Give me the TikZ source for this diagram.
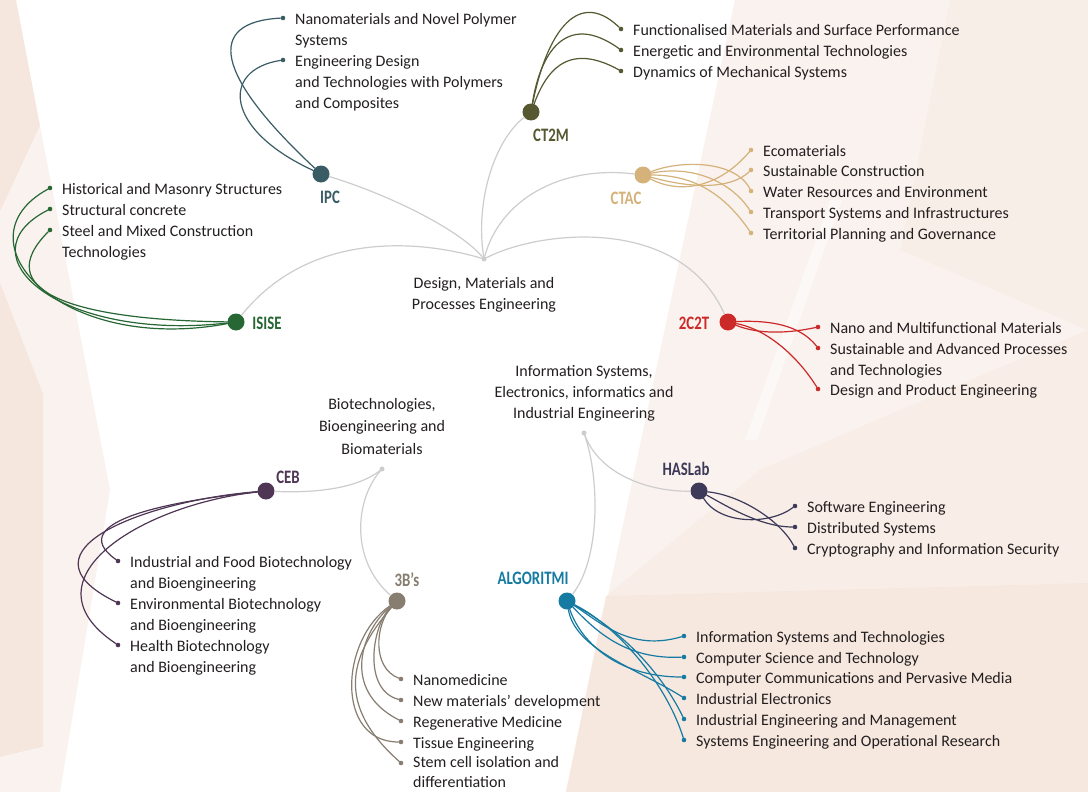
\documentclass[tikz,border=0pt]{standalone}
\usepackage{fontspec}
\setmainfont{Carlito}
\usepackage{tikz}
\usepackage{graphicx}
\definecolor{ipccol}{RGB}{58,92,100}
\definecolor{ctmcol}{RGB}{85,88,48}
\definecolor{ctaccol}{RGB}{213,178,122}
\definecolor{isisecol}{RGB}{38,103,52}
\definecolor{cctcol}{RGB}{204,41,41}
\definecolor{cebcol}{RGB}{78,54,84}
\definecolor{bbbcol}{RGB}{135,125,112}
\definecolor{hascol}{RGB}{60,58,88}
\definecolor{algcol}{RGB}{22,123,163}
\definecolor{hubgray}{RGB}{205,205,205}
\definecolor{inkgray}{RGB}{35,31,32}
\definecolor{bgpeach}{RGB}{246,231,222}
\definecolor{bglight}{RGB}{250,242,238}
\usetikzlibrary{positioning}
\newcommand{\leaffont}{\fontsize{16}{21}\selectfont}
\newcommand{\unitfont}{\fontsize{19}{19}\selectfont\bfseries}
\newcommand{\narrow}[1]{\scalebox{0.78}[1]{#1}}
\tikzset{
    unitdot/.style = {circle, fill, inner sep=0pt, minimum size=17pt},
    leafdot/.style = {circle, fill, inner sep=0pt, minimum size=4.6pt},
    hubdot/.style = {circle, fill=hubgray, inner sep=0pt, minimum size=5pt},
    twig/.style = {line width=1.2pt},
    stem/.style = {draw=hubgray, line width=1.2pt},
    leaftext/.style = {anchor=north west, xshift=12pt, yshift=8pt, inner sep=0pt,
        align=left, font=\leaffont, text=inkgray, execute at begin node=\strut},
    leaftexts/.style = {leaftext, yshift=-3pt},
    hubtext/.style = {inner sep=0pt, align=center, font=\leaffont, text=inkgray,
        execute at begin node=\strut, execute at end node=\strut},
    unitlbl/.style = {inner sep=0pt, font=\unitfont}
}

\begin{document}
\begin{tikzpicture}[line cap=round, line join=round, x=1pt, y=-1pt]
\useasboundingbox (0,0) rectangle (1088,792);
\fill[white] (0,0) rectangle (1088,792);

\fill[bgpeach] (0,0) -- (16,0) -- (40,126) -- (0,212) -- cycle;
\fill[bglight] (0,212) -- (40,126) -- (110,490) -- (43,560) -- (0,540) -- cycle;
\fill[bgpeach] (0,283) -- (43,394) -- (43,747) -- (0,757) -- cycle;
\fill[bglight] (43,560) -- (110,490) -- (60,792) -- (0,792) -- (0,757) -- (43,747) -- cycle;
\fill[bglight] (735,0) -- (1088,0) -- (1088,792) -- (566,792) -- cycle;
\fill[bgpeach, opacity=.35] (950,0) -- (1088,0) -- (1088,330) -- (900,250) -- cycle;
\fill[bgpeach, opacity=.9] (606,596) -- (1088,583) -- (1088,792) -- (566,792) -- cycle;
\fill[bgpeach, opacity=.4] (760,470) -- (1088,330) -- (1088,583) -- (606,596) -- cycle;
\fill[white, opacity=.5] (830,200) -- (842,200) -- (757,440) -- (745,440) -- cycle;

\node[hubdot] (dmpe) at (484,259) {};
\node[hubdot] (info) at (584,433) {};
\node[hubdot] (bio) at (382,469) {};
\node[hubtext, below=15pt of dmpe] (dmpetxt) {Design, Materials and\\Processes Engineering};
\node[hubtext, above=5.5pt of info] (infotxt) {Information Systems,\\Electronics, informatics and\\Industrial Engineering};
\node[hubtext, above=5pt of bio, font=\fontsize{16}{22.5}\selectfont] (biotxt) {Biotechnologies,\\Bioengineering and\\Biomaterials};

\node[unitdot, ipccol] (ipc) at (321,174) {};
\node[unitdot, ctmcol] (ctm) at (531,112) {};
\node[unitdot, ctaccol] (ctac) at (643,175) {};
\node[unitdot, isisecol] (isise) at (236,322) {};
\node[unitdot, cctcol] (cct) at (728,322) {};
\node[unitdot, cebcol] (ceb) at (266,491) {};
\node[unitdot, bbbcol] (bbb) at (397,601) {};
\node[unitdot, hascol] (has) at (699,491) {};
\node[unitdot, algcol] (alg) at (567,601) {};

\node[unitlbl, text=ipccol] (ipclbl) at (330,197) {\narrow{IPC}};
\node[unitlbl, text=ctmcol] (ctmlbl) at (551,135) {\narrow{CT2M}};
\node[unitlbl, text=ctaccol] (ctaclbl) at (626,198) {\narrow{CTAC}};
\node[unitlbl, text=isisecol] (isiselbl) at (267,323) {\narrow{ISISE}};
\node[unitlbl, text=cctcol] (cctlbl) at (694,323) {\narrow{2C2T}};
\node[unitlbl, text=cebcol] (ceblbl) at (288,477) {\narrow{CEB}};
\node[unitlbl, text=bbbcol] (bbblbl) at (407,580) {\narrow{3B’s}};
\node[unitlbl, text=hascol] (haslbl) at (686,469) {\narrow{HASLab}};
\node[unitlbl, text=algcol] (alglbl) at (533,578) {\narrow{ALGORITMI}};

\draw[stem] (dmpe) .. controls (460,230) and (390,195) .. (ipc);
\draw[stem] (dmpe) .. controls (475,200) and (495,140) .. (ctm);
\draw[stem] (dmpe) .. controls (500,200) and (560,165) .. (ctac);
\draw[stem] (dmpe) .. controls (420,240) and (310,230) .. (isise);
\draw[stem] (dmpe) .. controls (540,230) and (680,215) .. (cct);
\draw[stem] (info) .. controls (600,475) and (650,492) .. (has);
\draw[stem] (info) .. controls (600,480) and (600,560) .. (alg);
\draw[stem] (bio) .. controls (355,490) and (310,493) .. (ceb);
\draw[stem] (bio) .. controls (355,500) and (350,560) .. (bbb);

\node[leafdot, ipccol] (ipc1) at (283,18) {};
\node[leafdot, ipccol] (ipc2) at (283,60) {};
\node[leaftexts] (ipc1t) at (ipc1) {Nanomaterials and Novel Polymer\\Systems};
\node[leaftexts] (ipc2t) at (ipc2) {Engineering Design\\and Technologies with Polymers\\and Composites};
\draw[twig, ipccol] (ipc) .. controls (215,75) and (205,22) .. (ipc1);
\draw[twig, ipccol] (ipc) .. controls (225,130) and (220,70) .. (ipc2);

\node[leafdot, ctmcol] (ctm1) at (621,29) {};
\node[leafdot, ctmcol] (ctm2) at (621,50) {};
\node[leafdot, ctmcol] (ctm3) at (621,71) {};
\node[leaftext] (ctm1t) at (ctm1) {Functionalised Materials and Surface Performance};
\node[leaftext] (ctm2t) at (ctm2) {Energetic and Environmental Technologies};
\node[leaftext] (ctm3t) at (ctm3) {Dynamics of Mechanical Systems};
\draw[twig, ctmcol] (ctm) .. controls (545,40) and (575,-15) .. (ctm1);
\draw[twig, ctmcol] (ctm) .. controls (540,55) and (565,10) .. (ctm2);
\draw[twig, ctmcol] (ctm) .. controls (545,75) and (565,40) .. (ctm3);

\node[leafdot, ctaccol] (ctac1) at (751,150) {};
\node[leafdot, ctaccol] (ctac2) at (751,170) {};
\node[leafdot, ctaccol] (ctac3) at (751,191) {};
\node[leafdot, ctaccol] (ctac4) at (751,212) {};
\node[leafdot, ctaccol] (ctac5) at (751,233) {};
\node[leaftext] (ctac1t) at (ctac1) {Ecomaterials};
\node[leaftext] (ctac2t) at (ctac2) {Sustainable Construction};
\node[leaftext] (ctac3t) at (ctac3) {Water Resources and Environment};
\node[leaftext] (ctac4t) at (ctac4) {Transport Systems and Infrastructures};
\node[leaftext] (ctac5t) at (ctac5) {Territorial Planning and Governance};
\draw[twig, ctaccol] (ctac) .. controls (675,192) and (715,192) .. (ctac1);
\draw[twig, ctaccol] (ctac) .. controls (690,188) and (730,190) .. (ctac2);
\draw[twig, ctaccol] (ctac) .. controls (680,160) and (735,160) .. (ctac3);
\draw[twig, ctaccol] (ctac) .. controls (690,165) and (730,180) .. (ctac4);
\draw[twig, ctaccol] (ctac) .. controls (695,175) and (725,195) .. (ctac5);

\node[leafdot, isisecol] (isise1) at (50,188) {};
\node[leafdot, isisecol] (isise2) at (50,209) {};
\node[leafdot, isisecol] (isise3) at (50,230) {};
\node[leaftext] (isise1t) at (isise1) {Historical and Masonry Structures};
\node[leaftext] (isise2t) at (isise2) {Structural concrete};
\node[leaftexts] (isise3t) at (isise3) {Steel and Mixed Construction\\Technologies};
\draw[twig, isisecol] (isise) .. controls (60,355) and (-45,240) .. (isise1);
\draw[twig, isisecol] (isise) .. controls (60,342) and (-40,255) .. (isise2);
\draw[twig, isisecol] (isise) .. controls (70,320) and (-10,290) .. (isise3);

\node[leafdot, cctcol] (cct1) at (818,327) {};
\node[leafdot, cctcol] (cct2) at (818,348) {};
\node[leafdot, cctcol] (cct3) at (818,389) {};
\node[leaftext] (cct1t) at (cct1) {Nano and Multifunctional Materials};
\node[leaftexts] (cct2t) at (cct2) {Sustainable and Advanced Processes\\and Technologies};
\node[leaftext] (cct3t) at (cct3) {Design and Product Engineering};
\draw[twig, cctcol] (cct) .. controls (760,335) and (790,333) .. (cct1);
\draw[twig, cctcol] (cct) .. controls (770,320) and (800,325) .. (cct2);
\draw[twig, cctcol] (cct) .. controls (770,330) and (800,360) .. (cct3);

\node[leafdot, cebcol] (ceb1) at (118,561) {};
\node[leafdot, cebcol] (ceb2) at (118,603) {};
\node[leafdot, cebcol] (ceb3) at (118,645) {};
\node[leaftexts] (ceb1t) at (ceb1) {Industrial and Food Biotechnology\\and Bioengineering};
\node[leaftexts] (ceb2t) at (ceb2) {Environmental Biotechnology\\and Bioengineering};
\node[leaftexts] (ceb3t) at (ceb3) {Health Biotechnology\\and Bioengineering};
\draw[twig, cebcol] (ceb) .. controls (180,500) and (60,520) .. (ceb1);
\draw[twig, cebcol] (ceb) .. controls (150,500) and (10,550) .. (ceb2);
\draw[twig, cebcol] (ceb) .. controls (140,505) and (20,580) .. (ceb3);

\node[leafdot, bbbcol] (bbb1) at (401,679) {};
\node[leafdot, bbbcol] (bbb2) at (401,700) {};
\node[leafdot, bbbcol] (bbb3) at (401,721) {};
\node[leafdot, bbbcol] (bbb4) at (401,742) {};
\node[leafdot, bbbcol] (bbb5) at (401,763) {};
\node[leaftext] (bbb1t) at (bbb1) {Nanomedicine};
\node[leaftext] (bbb2t) at (bbb2) {New materials’ development};
\node[leaftext] (bbb3t) at (bbb3) {Regenerative Medicine};
\node[leaftext] (bbb4t) at (bbb4) {Tissue Engineering};
\node[leaftexts, yshift=1.5pt, font=\fontsize{16}{20}\selectfont] (bbb5t) at (bbb5) {Stem cell isolation and\\differentiation};
\draw[twig, bbbcol] (bbb) .. controls (375,625) and (372,668) .. (bbb1);
\draw[twig, bbbcol] (bbb) .. controls (372,625) and (362,690) .. (bbb2);
\draw[twig, bbbcol] (bbb) .. controls (362,630) and (340,690) .. (bbb3);
\draw[twig, bbbcol] (bbb) .. controls (340,640) and (335,742) .. (bbb4);
\draw[twig, bbbcol] (bbb) .. controls (355,650) and (330,700) .. (bbb5);

\node[leafdot, hascol] (has1) at (795,506) {};
\node[leafdot, hascol] (has2) at (795,527) {};
\node[leafdot, hascol] (has3) at (795,548) {};
\node[leaftext] (has1t) at (has1) {Software Engineering};
\node[leaftext] (has2t) at (has2) {Distributed Systems};
\node[leaftext] (has3t) at (has3) {Cryptography and Information Security};
\draw[twig, hascol] (has) .. controls (720,525) and (770,525) .. (has1);
\draw[twig, hascol] (has) .. controls (725,505) and (760,527) .. (has2);
\draw[twig, hascol] (has) .. controls (740,495) and (780,520) .. (has3);

\node[leafdot, algcol] (alg1) at (684,636) {};
\node[leafdot, algcol] (alg2) at (684,657) {};
\node[leafdot, algcol] (alg3) at (684,677) {};
\node[leafdot, algcol] (alg4) at (684,698) {};
\node[leafdot, algcol] (alg5) at (684,719) {};
\node[leafdot, algcol] (alg6) at (684,740) {};
\node[leaftext] (alg1t) at (alg1) {Information Systems and Technologies};
\node[leaftext] (alg2t) at (alg2) {Computer Science and Technology};
\node[leaftext] (alg3t) at (alg3) {Computer Communications and Pervasive Media};
\node[leaftext] (alg4t) at (alg4) {Industrial Electronics};
\node[leaftext] (alg5t) at (alg5) {Industrial Engineering and Management};
\node[leaftext] (alg6t) at (alg6) {Systems Engineering and Operational Research};
\draw[twig, algcol] (alg) .. controls (600,622) and (630,652) .. (alg1);
\draw[twig, algcol] (alg) .. controls (595,630) and (625,660) .. (alg2);
\draw[twig, algcol] (alg) .. controls (580,640) and (615,677) .. (alg3);
\draw[twig, algcol] (alg) .. controls (575,650) and (640,670) .. (alg4);
\draw[twig, algcol] (alg) .. controls (620,630) and (660,670) .. (alg5);
\draw[twig, algcol] (alg) .. controls (615,625) and (665,680) .. (alg6);
\end{tikzpicture}
\end{document}
